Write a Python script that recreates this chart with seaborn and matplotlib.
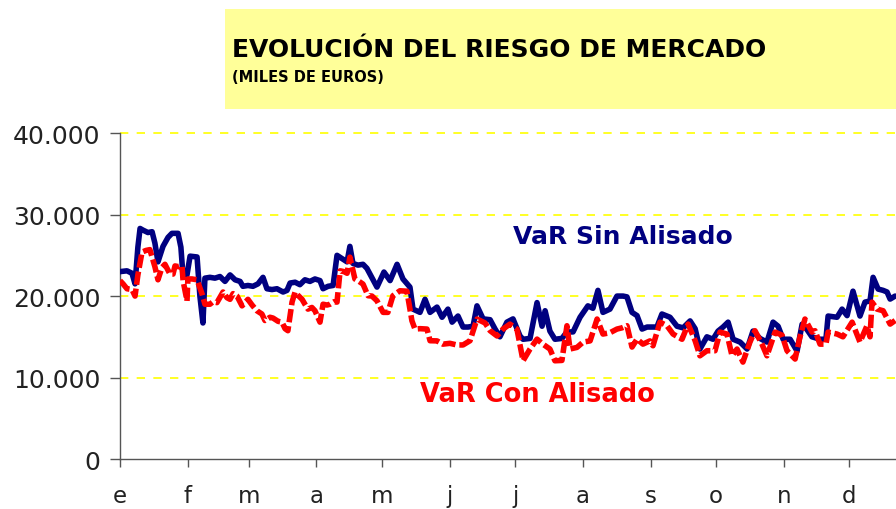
import pandas as pd
import matplotlib.pyplot as plt
import seaborn as sns
from matplotlib.patches import Rectangle

# day of year / value (miles de euros)
sin_days = [0.0, 3.2, 5.5, 6.9, 8.2, 9.2, 10.5, 12.8, 14.7, 16.0, 17.4, 19.7, 22.0, 23.8, 26.6, 27.9,
            28.9, 30.7, 32.1, 35.3, 36.6, 38.0, 38.9, 41.2, 43.5, 45.8, 48.1, 50.4, 52.7, 55.0, 56.3,
            58.6, 60.9, 63.2, 65.5, 67.3, 69.6, 71.9, 74.7, 76.5, 77.9, 80.2, 82.4, 84.7, 87.0, 89.3,
            91.6, 93.0, 95.3, 97.6, 99.4, 101.7, 104.0, 105.3, 106.7, 109.0, 111.3, 113.1, 114.5,
            117.7, 120.9, 123.7, 126.9, 129.6, 132.8, 134.2, 137.4, 139.7, 142.0, 145.2, 147.5,
            150.2, 152.1, 154.8, 157.1, 159.4, 161.7, 163.5, 166.3, 169.5, 171.8, 174.0, 177.2,
            180.0, 183.2, 184.6, 187.8, 191.0, 193.3, 194.7, 196.9, 199.2, 202.4, 204.7, 207.5,
            210.7, 214.3, 216.6, 218.9, 221.2, 224.4, 227.6, 230.4, 232.2, 234.5, 236.8, 239.1,
            241.4, 243.7, 245.9, 248.2, 251.9, 255.1, 257.9, 261.1, 263.4, 265.6, 268.8, 271.6,
            273.9, 276.2, 278.5, 280.8, 284.0, 287.2, 289.9, 293.1, 296.3, 299.1, 301.4, 303.7,
            306.9, 310.1, 312.4, 314.6, 316.9, 320.6, 323.3, 324.3, 328.4, 330.7, 333.0, 335.7,
            338.9, 341.2, 343.5, 344.9, 347.2, 349.5, 351.3, 352.7, 355.0]
sin_vals = [23000, 23100, 22800, 21500, 26000, 28300, 28100, 27800, 27900, 26500, 24200, 26100, 27200,
            27700, 27700, 26000, 22400, 22600, 24900, 24800, 20000, 16700, 22200, 22300, 22200, 22400,
            21800, 22600, 22000, 21800, 21200, 21300, 21200, 21500, 22300, 20900, 20800, 20900, 20500,
            20700, 21600, 21700, 21400, 22000, 21800, 22100, 21900, 20900, 21200, 21300, 25000, 24600,
            24200, 26100, 24000, 23800, 23900, 23400, 22700, 21100, 22950, 21900, 23900, 22100, 21100,
            18400, 18000, 19600, 18000, 18650, 17400, 18400, 16800, 17550, 16200, 16200, 16300, 18800,
            17200, 17100, 15950, 15000, 16800, 17200, 15100, 14700, 14800, 19200, 16300, 18200, 15700,
            14700, 14800, 15600, 15600, 17400, 18800, 18500, 20700, 18000, 18400, 20000, 20000, 19900,
            18000, 17600, 15950, 16200, 16200, 16200, 17800, 17400, 16300, 16100, 16950, 16000, 13500,
            15000, 14700, 15700, 16200, 16800, 14700, 14350, 13500, 15700, 14800, 14350, 16800, 16300,
            14700, 14700, 13250, 16550, 15900, 15000, 14700, 14700, 17550, 17400, 18400, 17600, 20600,
            17550, 19260, 19400, 22300, 20860, 20700, 20500, 19630, 20000]

con_days = [0.0, 1.4, 3.2, 5.5, 6.9, 8.2, 10.1, 11.9, 13.7, 16.0, 17.4, 19.2, 20.6, 22.9, 24.3, 25.2,
            27.0, 28.4, 28.9, 30.7, 31.1, 33.0, 35.3, 37.6, 38.9, 41.2, 42.6, 44.4, 47.2, 49.0, 50.4,
            51.8, 53.6, 55.9, 57.3, 58.6, 60.5, 62.7, 65.0, 66.4, 68.7, 70.1, 72.4, 74.2, 75.6, 76.9,
            78.8, 80.2, 81.5, 83.4, 84.7, 86.1, 87.9, 89.3, 91.6, 93.0, 94.8, 96.2, 98.0, 99.4, 100.8,
            102.6, 104.0, 105.3, 107.6, 109.5, 111.3, 113.6, 115.4, 117.7, 120.5, 122.7, 125.0, 128.2,
            131.4, 133.7, 135.1, 137.4, 140.6, 142.0, 145.2, 147.9, 151.1, 154.3, 157.1, 160.3, 163.5,
            167.2, 169.5, 172.7, 175.4, 178.6, 181.8, 184.6, 187.8, 191.0, 193.7, 196.9, 199.2, 202.4,
            204.7, 206.1, 209.3, 212.1, 215.3, 218.5, 221.2, 224.4, 227.6, 229.9, 232.2, 234.5, 236.8,
            239.5, 242.7, 244.1, 247.3, 250.5, 253.3, 257.4, 260.2, 263.4, 265.6, 268.8, 272.5, 274.8,
            278.0, 280.3, 282.6, 285.3, 288.5, 290.8, 294.0, 296.3, 300.0, 303.2, 305.5, 309.2, 311.4,
            313.7, 316.9, 318.3, 320.6, 323.3, 324.3, 328.4, 331.1, 335.3, 338.9, 342.1, 343.5, 344.4,
            346.7, 349.5, 352.7, 355.0]
con_vals = [21900, 21500, 20900, 20800, 20000, 22600, 25400, 25600, 25700, 23600, 22000, 23500, 23900,
            22700, 22700, 23700, 23600, 23700, 21900, 19400, 22100, 22100, 22000, 20250, 19000, 19000,
            19300, 19200, 20500, 19800, 19600, 20300, 20000, 18800, 19200, 19600, 18900, 18200, 17800,
            17000, 17400, 17300, 16900, 16800, 16000, 15750, 19260, 20500, 20100, 19600, 19000, 18400,
            18600, 18200, 16800, 19000, 18900, 19000, 19300, 19260, 23100, 23000, 22800, 24780, 22100,
            21800, 21470, 20040, 20000, 19420, 18000, 18000, 20040, 20650, 20600, 16970, 15950, 16000,
            15950, 14520, 14500, 14100, 14200, 14000, 14000, 14520, 17180, 16700, 15750, 15100, 15950,
            16560, 15950, 12060, 13500, 14720, 14100, 13500, 12060, 12100, 16360, 13500, 13700, 14350,
            14500, 17180, 15340, 15500, 15950, 16100, 16360, 13740, 14720, 14100, 14500, 13900, 16800,
            16360, 15340, 14700, 16560, 14520, 12670, 13290, 13290, 15580, 15340, 12670, 13500, 11900,
            14350, 15750, 14100, 12670, 15580, 15200, 13290, 12270, 14970, 17180, 15580, 15750, 14100,
            14100, 15580, 15340, 15000, 16800, 14350, 16360, 15000, 19260, 18400, 18200, 16560, 17000]

month_starts = [0, 31, 59, 90, 120, 151, 181, 212, 243, 273, 304, 334]
month_labels = ['e', 'f', 'm', 'a', 'm', 'j', 'j', 'a', 's', 'o', 'n', 'd']
y_ticks = [0, 10000, 20000, 30000, 40000]
y_labels = ['0', '10.000', '20.000', '30.000', '40.000']

sin_df = pd.DataFrame({'dia': sin_days, 'var': sin_vals})
con_df = pd.DataFrame({'dia': con_days, 'var': con_vals})

sns.set_theme(style='white')
plt.rcParams['font.family'] = ['DejaVu Sans']

fig = plt.figure(figsize=(8.96, 5.10), dpi=100)
ax = fig.add_axes([0.1339, 0.098, 0.8895, 0.639])

# yellow dashed gridlines
for v in y_ticks[1:]:
    ax.axhline(v, color='#FFFF00', linestyle=(0, (5, 5)), linewidth=1.2, clip_on=False, zorder=1)

sns.lineplot(data=sin_df, x='dia', y='var', ax=ax, color='#000080', linewidth=4.0, zorder=3)
sns.lineplot(data=con_df, x='dia', y='var', ax=ax, color='#FF0000', linewidth=4.0,
             linestyle=(0, (2.4, 0.7)), zorder=4)

ax.set_xlim(0, 365)
ax.set_ylim(0, 40000)
ax.set_xticks(month_starts)
ax.set_xticklabels(month_labels, fontsize=16.5, color='#222222')
ax.set_yticks(y_ticks)
ax.set_yticklabels(y_labels, fontsize=18, color='#222222')
ax.set_xlabel('')
ax.set_ylabel('')
ax.tick_params(axis='x', direction='out', length=6, width=1, color='#555555', pad=12, bottom=True)
ax.tick_params(axis='y', direction='out', length=7, width=1, color='#555555', pad=7, left=True)
ax.grid(False)
for side in ['top', 'right']:
    ax.spines[side].set_visible(False)
for side in ['left', 'bottom']:
    ax.spines[side].set_color('#555555')
    ax.spines[side].set_linewidth(1)

ax.text(230.4, 27400, 'VaR Sin Alisado', color='#000080', fontsize=18, fontweight='bold',
        ha='center', va='center')
ax.text(191.4, 8000, 'VaR Con Alisado', color='#FF0000', fontsize=18.5, fontweight='bold',
        ha='center', va='center')

# title box
fig.patches.append(Rectangle((0.251, 0.784), 0.76, 0.196, transform=fig.transFigure,
                             facecolor='#FFFF99', edgecolor='none', zorder=0))
fig.text(0.259, 0.888, 'EVOLUCIÓN DEL RIESGO DE MERCADO', fontsize=18, fontweight='bold',
         va='baseline', ha='left', color='black')
fig.text(0.259, 0.839, '(MILES DE EUROS)', fontsize=10.5, fontweight='bold',
         va='baseline', ha='left', color='black')

fig.savefig('out.png', dpi=100)
